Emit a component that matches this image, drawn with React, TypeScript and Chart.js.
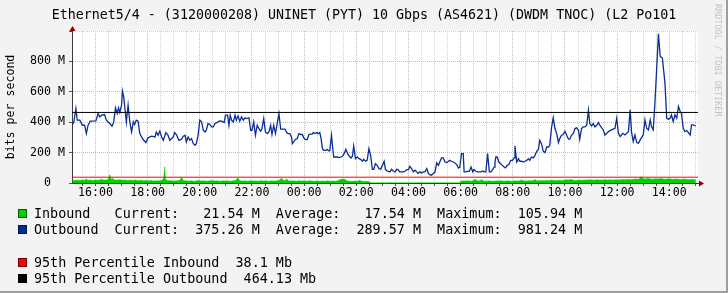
import React, { useEffect, useRef } from 'react';
import { Chart, registerables } from 'chart.js';

Chart.register(...registerables);

const titleText = 'Ethernet5/4 - (3120000208) UNINET (PYT) 10 Gbps (AS4621) (DWDM TNOC) (L2 Po101';
const yAxisTitle = 'bits per second';
const watermark = 'RRDTOOL / TOBI OETIKER';

// time axis: minutes after 15:00 of the first day (24 h window)
const xStart = 6;
const xEnd = 1446;
const xTickMinutes = Array.from({ length: 48 }, (_, i) => 30 + i * 30);
const yMax = 1000;

// Outbound (M bits/s)
const outTimes = [
  7, 10, 15, 18, 24, 30, 35, 39, 43, 48, 61, 66, 70, 74, 81, 85, 93, 98, 102, 106, 110, 113, 116, 120, 122, 125, 127, 131, 135, 139,
  143, 147, 150, 154, 158, 162, 166, 171, 176, 181, 189, 197, 200, 204, 208, 212, 216, 222, 227, 231, 239, 242, 246, 252,
  258, 262, 266, 269, 273, 277, 281, 285, 289, 292, 296, 300, 304, 308, 312, 315, 319, 323, 327, 331, 335, 338, 342, 346, 350, 356,
  359, 364, 367, 370, 373, 377, 381, 384, 388, 392, 396, 400, 404, 407, 413, 417, 420, 424, 428, 432, 436, 440, 443, 447, 451, 455,
  459, 463, 466, 470, 474, 478, 482, 486, 489, 496,
  500, 503, 507, 511, 513, 516, 520, 524, 528, 532, 536, 539, 543, 547, 551, 555, 559, 561, 565, 569, 572, 576, 579, 582, 585, 589,
  593, 597, 599, 603, 605, 608, 612, 616, 621, 625, 628, 632, 636, 640, 644, 648, 651, 654, 658, 662, 666, 670, 674, 677, 681, 685,
  689, 693, 697, 700, 704, 708, 712, 716, 720, 724, 727, 731, 737,
  741, 745, 749, 753, 756, 760, 764, 768, 772, 776, 780, 783, 787, 791, 795, 799, 802, 806, 810, 814, 818, 822, 826, 829, 833, 837,
  841, 845, 849, 852, 856, 860, 864, 868, 872, 875, 879, 883, 887, 891, 895, 898, 902, 906, 908, 912, 916, 920, 924, 928, 931, 935,
  939, 943, 947, 951, 954, 958, 962, 966, 970, 974, 977,
  979, 981, 984, 988, 992, 996, 1000, 1003, 1007, 1011, 1015, 1019, 1023, 1025, 1029, 1033, 1036, 1040, 1044, 1048, 1052, 1056,
  1059, 1063, 1067, 1071, 1075, 1079, 1082, 1086, 1090, 1094, 1098, 1102, 1105, 1109, 1113, 1117, 1121, 1125, 1128, 1132, 1136,
  1140, 1144, 1148, 1151, 1155, 1159, 1163, 1167, 1171, 1174, 1178, 1182, 1186, 1190, 1194, 1197, 1201, 1205, 1209, 1213, 1217, 1220,
  1228, 1232, 1240, 1247, 1255, 1259, 1263, 1267, 1273, 1278, 1286, 1290, 1293, 1297, 1301, 1305, 1309, 1313, 1320, 1324, 1328,
  1332, 1336, 1339, 1343, 1347, 1355, 1359, 1364, 1366, 1370, 1374, 1378, 1382, 1385, 1389, 1393, 1397, 1401, 1405, 1408, 1412,
  1416, 1420, 1424, 1428, 1431, 1435, 1441,
];
const outValues = [
  387, 396, 490, 413, 413, 380, 380, 325, 380, 407, 409, 457, 435, 446, 450, 413, 391, 374, 402, 494, 457, 494, 464, 512, 604, 567, 512, 402, 512, 402,
  336, 402, 385, 413, 407, 325, 303, 281, 266, 297, 308, 303, 336, 314, 341, 303, 281, 332, 314, 281, 303, 332, 319, 281,
  288, 308, 314, 270, 303, 281, 292, 259, 248, 259, 314, 413, 402, 347, 336, 347, 391, 385, 369, 369, 391, 396, 402, 409, 407, 398,
  446, 446, 380, 446, 413, 402, 446, 413, 442, 407, 435, 413, 429, 424, 429, 347, 347, 402, 314, 380, 358, 341, 358, 424, 336, 325,
  336, 380, 319, 380, 325, 391, 457, 354, 354, 354,
  332, 325, 325, 303, 259, 270, 288, 292, 325, 319, 319, 297, 286, 286, 319, 321, 321, 332, 325, 332, 325, 332, 292, 226, 215, 215,
  220, 211, 215, 314, 250, 171, 171, 171, 167, 171, 176, 193, 222, 193, 176, 165, 176, 244, 160, 171, 160, 156, 143, 156, 143, 149,
  226, 182, 90, 90, 127, 116, 95, 90, 116, 143, 90, 79, 73,
  90, 79, 73, 90, 88, 73, 73, 73, 77, 88, 88, 110, 95, 73, 84, 73, 62, 73, 66, 73, 73, 95, 62, 55, 51, 62,
  73, 132, 116, 138, 165, 165, 138, 134, 143, 149, 143, 138, 132, 121, 99, 105, 193, 193, 73, 73, 77, 77, 105, 73, 88, 77,
  73, 73, 73, 79, 73, 73, 193, 73, 73, 90, 105,
  138, 171, 171, 138, 127, 116, 105, 99, 116, 121, 149, 149, 165, 244, 138, 160, 143, 143, 138, 143, 149, 160,
  149, 171, 165, 182, 209, 222, 281, 259, 209, 200, 237, 237, 248, 363, 429, 358, 325, 266, 292, 314, 319,
  341, 314, 288, 288, 314, 325, 358, 363, 347, 288, 358, 369, 369, 380, 479, 391, 376, 391, 369, 380, 398, 380,
  349, 316, 338, 349, 360, 426, 327, 305, 327, 316, 338, 481, 338, 273, 316, 266, 262, 284, 316, 415, 360,
  349, 415, 371, 349, 530, 981, 833, 822, 767, 657, 426, 420, 426, 448, 404, 448, 426, 503, 470, 459, 360,
  338, 345, 332, 316, 382, 382, 375,
];

// Inbound (M bits/s)
const inTimes = [
  7, 12, 18, 24, 30, 36, 39, 42, 48, 54, 60, 66, 72, 74, 77, 83, 89, 93, 96, 100, 104, 110, 116, 122, 128, 134, 140, 146, 152, 158,
  164, 170, 176, 182, 188, 194, 200, 206, 212, 217, 219, 221, 226, 232, 238, 244, 250, 254, 258, 262, 268, 274, 280, 286, 292, 298,
  304, 310, 316, 322, 328, 334, 340, 346, 352, 358, 364, 370, 376, 382, 388, 392, 398, 404, 410, 416, 422, 428, 434, 440, 446, 452,
  458, 464, 470, 476, 482, 488, 492, 496, 500, 504, 510, 516, 522, 528, 534, 540, 546, 552, 558, 564, 570, 576, 582, 588, 594, 600,
  606, 612, 618, 622, 628, 634, 638, 644, 650, 656, 662, 668, 672, 678, 684, 690, 692, 700, 750, 800, 850, 898,
  900, 906, 912, 918, 924, 930, 934, 938, 944, 948, 952, 958, 964, 970, 976, 982, 988, 994, 1000, 1006, 1012, 1018, 1024, 1030,
  1036, 1040, 1044, 1050, 1056, 1062, 1068, 1071, 1074, 1080, 1086, 1092, 1098, 1104, 1110, 1116, 1122, 1128, 1134, 1140, 1144,
  1148, 1152, 1156, 1160, 1166, 1172, 1178, 1184, 1190, 1196, 1202, 1208, 1214, 1220, 1226, 1232, 1238, 1244, 1250, 1256, 1262,
  1268, 1274, 1280, 1286, 1292, 1298, 1304, 1310, 1316, 1320, 1326, 1330, 1336, 1342, 1348, 1354, 1360, 1366, 1372, 1378, 1384,
  1390, 1396, 1402, 1408, 1414, 1420, 1426, 1432, 1438, 1441,
];
const inValues = [
  18, 16, 20, 17, 19, 18, 28, 18, 20, 17, 19, 18, 21, 26, 19, 20, 22, 55, 24, 30, 20, 19, 22, 18, 20, 17, 19, 16, 20, 15,
  18, 14, 17, 15, 16, 13, 15, 14, 16, 30, 106, 25, 14, 16, 13, 15, 14, 18, 38, 16, 14, 13, 15, 12, 14, 16,
  13, 15, 12, 14, 16, 13, 15, 12, 14, 13, 15, 12, 14, 16, 34, 15, 13, 14, 12, 15, 13, 14, 12, 15, 13, 14,
  12, 15, 13, 14, 16, 32, 18, 15, 26, 15, 13, 14, 12, 15, 13, 14, 12, 15, 13, 12, 14, 11, 13, 12, 14, 11,
  13, 12, 15, 22, 26, 24, 14, 12, 11, 13, 11, 18, 12, 10, 11, 9, 1.5, 1.5, 1, 1.5, 1, 1.5,
  12, 14, 13, 15, 12, 16, 26, 14, 15, 22, 14, 12, 14, 13, 12, 14, 13, 15, 12, 14, 13, 12, 14, 13,
  15, 20, 14, 13, 15, 14, 16, 24, 15, 14, 16, 15, 17, 16, 18, 17, 16, 18, 17, 19, 22,
  20, 23, 21, 18, 17, 19, 18, 20, 19, 21, 20, 19, 21, 20, 19, 22, 20, 21, 19, 22, 20,
  21, 23, 22, 24, 22, 25, 27, 24, 42, 28, 26, 32, 27, 25, 28, 26, 30, 27, 25, 28, 26,
  24, 27, 25, 23, 26, 24, 22, 24, 22, 21.5,
];

const pct95In = 38.1;
const pct95Out = 464.13;

const seriesNames = ['Inbound', 'Outbound'];
const seriesColors = ['#00CF00', '#002A97'];
const currentVals = ['21.54 M', '375.26 M'];
const averageVals = ['17.54 M', '289.57 M'];
const maximumVals = ['105.94 M', '981.24 M'];
const pctLabels = ['95th Percentile Inbound', '95th Percentile Outbound'];
const pctVals = ['38.1 Mb', '464.13 Mb'];
const pctColors = ['#FF0000', '#000000'];

const MONO = "'DejaVu Sans Mono', monospace";
const MAJOR_GRID = '#f4a8a8';
const MINOR_GRID = '#d2d2d2';

function hourLabel(m: number): string {
  const h = (15 + Math.round(m / 60)) % 24;
  return (h < 10 ? '0' : '') + h + ':00';
}

const rrdPlugin = {
  id: 'rrdDecor',
  beforeDraw(chart: any) {
    const { ctx, chartArea: a, width, height } = chart;
    ctx.save();
    ctx.fillStyle = '#F3F3F3';
    ctx.fillRect(0, 0, width, height);
    ctx.fillStyle = '#FFFFFF';
    ctx.fillRect(a.left, a.top, a.right - a.left, a.bottom - a.top);
    ctx.restore();
  },
  afterDraw(chart: any) {
    const { ctx, chartArea: a, width, height } = chart;
    ctx.save();
    // title
    ctx.fillStyle = '#000';
    ctx.font = `13.3px ${MONO}`;
    ctx.textAlign = 'center';
    ctx.textBaseline = 'alphabetic';
    ctx.fillText(titleText, width / 2, 19);

    // arrows
    ctx.fillStyle = '#8B0000';
    const ax = Math.round(a.left) + 0.5;
    ctx.beginPath();
    ctx.moveTo(ax - 3, a.top);
    ctx.lineTo(ax + 3, a.top);
    ctx.lineTo(ax, a.top - 5);
    ctx.closePath();
    ctx.fill();
    const ay = Math.round(a.bottom) + 0.5;
    ctx.beginPath();
    ctx.moveTo(a.right + 1, ay - 3);
    ctx.lineTo(a.right + 1, ay + 3);
    ctx.lineTo(a.right + 6, ay);
    ctx.closePath();
    ctx.fill();

    // legend
    ctx.font = `13.4px ${MONO}`;
    ctx.textAlign = 'left';
    const rows: { color: string; text: string; base: number }[] = [];
    seriesNames.forEach((n, i) => {
      rows.push({
        color: seriesColors[i],
        text:
          n.padEnd(10) + 'Current:' + currentVals[i].padStart(10) + '  Average:' + averageVals[i].padStart(10) +
          '  Maximum:' + maximumVals[i].padStart(10),
        base: 218 + i * 16,
      });
    });
    pctLabels.forEach((n, i) => {
      rows.push({ color: pctColors[i], text: n + '  ' + pctVals[i], base: 267 + i * 16 });
    });
    rows.forEach((r) => {
      ctx.fillStyle = r.color;
      ctx.fillRect(18, r.base - 9, 9, 9);
      ctx.strokeStyle = 'rgba(0,0,0,0.55)';
      ctx.lineWidth = 1;
      ctx.strokeRect(18.5, r.base - 8.5, 8, 8);
      ctx.fillStyle = '#000';
      ctx.fillText(r.text, 34, r.base);
    });

    // watermark
    ctx.save();
    ctx.translate(717, 4);
    ctx.rotate(Math.PI / 2);
    ctx.font = `8.5px ${MONO}`;
    ctx.fillStyle = '#c4c4c4';
    ctx.textBaseline = 'middle';
    ctx.textAlign = 'left';
    ctx.fillText(watermark, 0, 0);
    ctx.restore();

    // border shade
    ctx.fillStyle = '#9E9E9E';
    ctx.fillRect(0, height - 2, width, 2);
    ctx.fillRect(width - 2, 0, 2, height);
    ctx.restore();
  },
};

export default function App() {
  const ref = useRef<HTMLCanvasElement>(null);
  useEffect(() => {
    document.body.style.margin = '0';
    const canvas = ref.current;
    if (!canvas) return;
    const outData = outTimes.map((t, i) => ({ x: t, y: outValues[i] }));
    const inData = inTimes.map((t, i) => ({ x: t, y: inValues[i] }));
    const chart = new Chart(canvas, {
      type: 'line',
      data: {
        datasets: [
          {
            label: '95th Percentile Outbound',
            data: [{ x: xStart, y: pct95Out }, { x: xEnd, y: pct95Out }],
            borderColor: '#000000',
            borderWidth: 1,
            pointRadius: 0,
            fill: false,
          },
          {
            label: '95th Percentile Inbound',
            data: [{ x: xStart, y: pct95In }, { x: xEnd, y: pct95In }],
            borderColor: '#FF0000',
            borderWidth: 1,
            pointRadius: 0,
            fill: false,
          },
          {
            label: 'Outbound',
            data: outData,
            borderColor: '#0b2d96',
            borderWidth: 1.3,
            pointRadius: 0,
            fill: false,
          },
          {
            label: 'Inbound',
            data: inData,
            borderColor: '#00CF00',
            backgroundColor: '#00CF00',
            borderWidth: 0.5,
            pointRadius: 0,
            fill: 'origin',
          },
        ],
      },
      options: {
        responsive: false,
        animation: false,
        devicePixelRatio: 1,
        events: [],
        layout: { padding: { top: 31, right: 30, bottom: 86, left: 0 } },
        plugins: {
          legend: { display: false },
          tooltip: { enabled: false },
          title: { display: false },
        },
        elements: { line: { tension: 0 }, point: { radius: 0 } },
        scales: {
          x: {
            type: 'linear',
            min: xStart,
            max: xEnd,
            afterBuildTicks: (scale: any) => {
              scale.ticks = xTickMinutes.map((v) => ({ value: v }));
            },
            afterFit: (scale: any) => {
              scale.height = 24;
            },
            ticks: {
              autoSkip: false,
              maxRotation: 0,
              minRotation: 0,
              padding: 0,
              color: '#000',
              font: { family: MONO, size: 11.6 },
              callback: (v: any) => (Number(v) % 120 === 60 ? hourLabel(Number(v)) : ''),
            },
            grid: {
              color: (c: any) => (c.tick && c.tick.value % 120 === 60 ? MAJOR_GRID : MINOR_GRID),
              lineWidth: 1,
              tickLength: 3,
              tickColor: '#555',
            },
            border: { display: true, color: '#3a3a3a', width: 1, dash: [1, 1] },
          },
          y: {
            type: 'linear',
            min: 0,
            max: yMax,
            afterFit: (scale: any) => {
              scale.width = 72;
            },
            ticks: {
              stepSize: 100,
              padding: 4,
              color: '#000',
              font: { family: MONO, size: 11.6 },
              callback: (v: any) => {
                const n = Number(v);
                if (n === 0) return '0  ';
                return n % 200 === 0 && n < yMax ? `${n} M` : '';
              },
            },
            grid: {
              color: (c: any) =>
                c.tick && c.tick.value % 200 === 0 && c.tick.value > 0 && c.tick.value < yMax ? MAJOR_GRID : MINOR_GRID,
              lineWidth: 1,
              tickLength: 3,
              tickColor: '#555',
            },
            border: { display: true, color: '#3a3a3a', width: 1, dash: [1, 1] },
            title: {
              display: true,
              text: yAxisTitle,
              color: '#000',
              font: { family: MONO, size: 11.6 },
              padding: { top: 4, bottom: 4 },
            },
          },
        },
      },
      plugins: [rrdPlugin],
    } as any);
    return () => chart.destroy();
  }, []);
  return (
    <div style={{ width: 728, height: 293 }}>
      <canvas ref={ref} width={728} height={293} style={{ display: 'block' }} />
    </div>
  );
}
